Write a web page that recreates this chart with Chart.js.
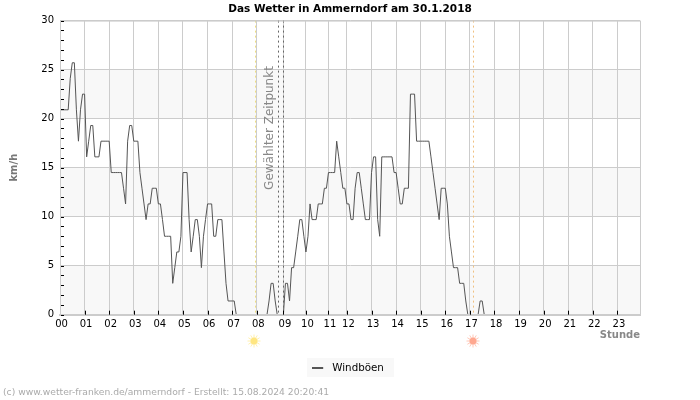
<!DOCTYPE html>
<html>
<head>
<meta charset="utf-8">
<style>
  html, body { margin: 0; padding: 0; background: #fff; }
  canvas { display: block; }
</style>
<script src="https://cdn.jsdelivr.net/npm/chart.js@4"></script>
</head>
<body>
<canvas id="chart" width="700" height="400"></canvas>
<script>
// Windböen, ein Wert pro Messung (ca. alle 5 Minuten)
let gusts = [
  20.9,20.9,20.9,20.9,20.9,24.1,25.7,25.7,20.9,17.7,20.9,22.5,
  22.5,16.1,17.7,19.3,19.3,16.1,16.1,16.1,17.7,17.7,17.7,17.7,
  17.7,14.5,14.5,14.5,14.5,14.5,14.5,12.9,11.3,17.7,19.3,19.3,
  17.7,17.7,17.7,14.5,12.9,11.3,9.7,11.3,11.3,12.9,12.9,12.9,
  11.3,11.3,9.7,8,8,8,8,3.2,4.8,6.4,6.4,8,
  14.5,14.5,14.5,9.7,6.4,8,9.7,9.7,8,4.8,8,9.7,
  11.3,11.3,11.3,8,8,9.7,9.7,9.7,6.4,3.2,1.4,1.4,
  1.4,1.4,0,0,0,0,0,0,0,0,0,0,
  0,0,0,0,0,0,1.4,3.2,3.2,1.4,0,0,0,
  0,3.2,3.2,1.4,4.8,4.8,6.4,8,9.7,9.7,8,
  6.4,8,11.3,9.7,9.7,9.7,11.3,11.3,11.3,12.9,12.9,
  14.5,14.5,14.5,14.5,17.7,16.1,14.5,12.9,12.9,
  11.3,11.3,9.7,9.7,12.9,14.5,14.5,12.9,11.3,9.7,9.7,9.7,
  14.5,16.1,16.1,9.7,8,16.1,16.1,16.1,16.1,16.1,16.1,14.5,
  14.5,12.9,11.3,11.3,12.9,12.9,12.9,22.5,22.5,22.5,17.7,17.7,
  17.7,17.7,17.7,17.7,17.7,16.1,14.5,12.9,11.3,9.7,12.9,12.9,
  12.9,11.3,8,6.4,4.8,4.8,4.8,3.2,3.2,3.2,1.4,0,
  0,0,0,0,0,1.4,1.4,0,0,0,0,0,
  0,0,0,0,0,0,0,0,0,0,0,0,
  0,0,0,0,0,0,0,0,0,0,0,0,
  0,0,0,0,0,0,0,0,0,0,0,0,
  0,0,0,0,0,0,0,0,0,0,0,0,
  0,0,0,0,0,0,0,0,0,0,0,0,
  0,0,0,0,0,0,0,0,0,0,0,0
];

let hourLabels = ['00','01','02','03','04','05','06','07','08','09','10','11','12','13','14','15','16','17','18','19','20','21','22','23'];
// Messung, mit der die jeweilige Stunde beginnt (in Stunde 11 fehlen Werte)
let hourStarts = [0,12,24,36,48,60,72,84,96,109,120,131,140,152,164,176,188,200,212,224,236,248,260,272];
let bandEdges = [[20,25],[10,15],[0,5]];
let sunrise = 95.2;
let sunset = 201.6;
let selectedTime = [106.5, 109];

let lastSample = gusts.length - 1;

function dotted(ctx, x, top, bottom, color) {
    ctx.save();
    ctx.strokeStyle = color;
    ctx.lineWidth = 1;
    ctx.setLineDash([2, 3]);
    ctx.beginPath();
    ctx.moveTo(Math.round(x) + 0.5, top);
    ctx.lineTo(Math.round(x) + 0.5, bottom);
    ctx.stroke();
    ctx.restore();
}

function sun(ctx, x, y, color, glow) {
    ctx.save();
    ctx.strokeStyle = glow;
    ctx.lineWidth = 1;
    for (let i = 0; i < 12; i++) {
        let a = i * Math.PI / 6;
        ctx.beginPath();
        ctx.moveTo(x + Math.cos(a) * 3, y + Math.sin(a) * 3);
        ctx.lineTo(x + Math.cos(a) * 6.5, y + Math.sin(a) * 6.5);
        ctx.stroke();
    }
    ctx.fillStyle = color;
    ctx.beginPath();
    ctx.arc(x, y, 3.5, 0, Math.PI * 2);
    ctx.fill();
    ctx.restore();
}

// Legendenlinie: 11px Strich, Rest der Breite bleibt leer als Abstand zum Text
function legendMark() {
    let c = document.createElement('canvas');
    c.width = 15;
    c.height = 2;
    let g = c.getContext('2d');
    g.fillStyle = '#555';
    g.fillRect(0, 0, 11, 2);
    return c;
}

const wetterPlugin = {
    id: 'wetter',
    afterLayout(chart) {
        // Legende sitzt im Original 2px weiter links
        chart.legend.left -= 2;
        chart.legend.right -= 2;
    },
    beforeDatasetsDraw(chart) {
        const { ctx, chartArea: a, scales } = chart;
        // graue Bänder müssen unter das schon gezeichnete Gitter
        ctx.save();
        ctx.globalCompositeOperation = 'destination-over';
        ctx.fillStyle = '#f8f8f8';
        bandEdges.forEach(b => {
            let y1 = scales.y.getPixelForValue(b[1]);
            let y2 = scales.y.getPixelForValue(b[0]);
            ctx.fillRect(a.left, y1, a.width, y2 - y1);
        });
        ctx.restore();
    },
    afterDatasetsDraw(chart) {
        const { ctx, chartArea: a, scales } = chart;
        dotted(ctx, scales.x.getPixelForValue(sunrise), a.top, a.bottom, '#f0e080');
        dotted(ctx, scales.x.getPixelForValue(sunset), a.top, a.bottom, '#f0c080');
        selectedTime.forEach(t => dotted(ctx, scales.x.getPixelForValue(t), a.top, a.bottom, '#666'));

        ctx.save();
        ctx.translate(270, 128);
        ctx.rotate(-Math.PI / 2);
        ctx.fillStyle = '#888';
        ctx.font = '12px "DejaVu Sans"';
        ctx.textAlign = 'center';
        ctx.textBaseline = 'middle';
        ctx.fillText('Gewählter Zeitpunkt', 0, 0);
        ctx.restore();
    },
    afterDraw(chart) {
        const { ctx, chartArea: a, scales } = chart;
        ctx.save();
        // Rahmen und Striche nach innen
        ctx.strokeStyle = '#ccc';
        ctx.lineWidth = 1;
        ctx.strokeRect(a.left + 0.5, a.top + 0.5, a.width, a.height);
        ctx.strokeStyle = '#000';
        scales.y.ticks.forEach(t => {
            let y = Math.round(scales.y.getPixelForValue(t.value)) + 0.5;
            ctx.beginPath();
            ctx.moveTo(a.left + 1, y);
            ctx.lineTo(a.left + 4, y);
            ctx.stroke();
        });
        hourStarts.slice(1).forEach(v => {
            let x = Math.round(scales.x.getPixelForValue(v)) + 0.5;
            ctx.beginPath();
            ctx.moveTo(x, a.bottom - 4);
            ctx.lineTo(x, a.bottom);
            ctx.stroke();
        });
        ctx.fillStyle = '#aaa';
        ctx.font = '9.2px "DejaVu Sans"';
        ctx.textAlign = 'left';
        ctx.textBaseline = 'middle';
        ctx.fillText('(c) www.wetter-franken.de/ammerndorf - Erstellt: 15.08.2024 20:20:41', 3, 393);
        ctx.restore();
        sun(ctx, 254, 341, '#ffe680', '#fff0b0');
        sun(ctx, 473, 341, '#ffa890', '#ffc8b8');
    },
    beforeDraw(chart) {
        // Hintergrund hinter der Legende
        const { ctx } = chart;
        ctx.save();
        ctx.fillStyle = '#f8f8f8';
        ctx.fillRect(307, 358, 87, 19);
        ctx.restore();
    }
};

new Chart(document.getElementById('chart'), {
    type: 'line',
    data: {
        datasets: [{
            label: 'Windböen',
            data: gusts.map((v, i) => ({ x: i, y: v })),
            borderColor: '#555',
            backgroundColor: '#555',
            borderWidth: 1,
            pointRadius: 0,
            tension: 0
        }]
    },
    options: {
        responsive: false,
        animation: false,
        layout: { padding: { bottom: 17 } },
        plugins: {
            title: {
                display: true,
                text: 'Das Wetter in Ammerndorf am 30.1.2018',
                color: '#000',
                font: { family: '"DejaVu Sans"', size: 10.5, weight: 'bold' },
                padding: { top: 3, bottom: 5 }
            },
            legend: {
                position: 'bottom',
                labels: {
                    color: '#000',
                    font: { family: '"DejaVu Sans"', size: 10.3 },
                    usePointStyle: true,
                    pointStyleWidth: 15,
                    padding: 10,
                    generateLabels: () => [{ text: 'Windböen', pointStyle: legendMark() }]
                }
            },
            tooltip: { enabled: false }
        },
        scales: {
            x: {
                type: 'linear',
                min: 0,
                max: lastSample,
                afterBuildTicks: s => { s.ticks = hourStarts.map(v => ({ value: v })); },
                afterFit: s => { s.height = 38; },
                ticks: {
                    autoSkip: false,
                    maxRotation: 0,
                    padding: 4,
                    labelOffset: 1.5,
                    color: '#000',
                    font: { family: '"DejaVu Sans"', size: 10 },
                    callback: v => hourLabels[hourStarts.indexOf(v)]
                },
                grid: { color: '#ccc', drawTicks: false },
                border: { color: '#ccc', width: 2, z: 1 },
                title: {
                    display: true,
                    text: 'Stunde',
                    align: 'end',
                    color: '#888',
                    font: { family: '"DejaVu Sans"', size: 10, weight: 'bold' },
                    padding: { top: 0, bottom: 11 }
                }
            },
            y: {
                min: 0,
                max: 30,
                afterFit: s => { s.width = 60; },
                ticks: {
                    stepSize: 1,
                    autoSkip: false,
                    padding: 6,
                    color: '#000',
                    font: { family: '"DejaVu Sans"', size: 10 },
                    callback: v => (v % 5 === 0 ? String(v) : '')
                },
                grid: {
                    drawTicks: false,
                    color: c => (c.tick.value % 5 === 0 ? '#ccc' : 'transparent')
                },
                border: { color: '#ccc' },
                title: {
                    display: true,
                    text: 'km/h',
                    color: '#777',
                    font: { family: '"DejaVu Sans"', size: 10, weight: 'bold' },
                    padding: { top: 8, bottom: 0 }
                }
            },
            // leere Achse rechts, hält den Rand frei und lässt Titel/Legende mittig
            rightMargin: {
                position: 'right',
                afterFit: s => { s.width = 60; },
                ticks: { display: false },
                grid: { display: false },
                border: { display: false }
            }
        }
    },
    plugins: [wetterPlugin]
});
</script>
</body>
</html>
